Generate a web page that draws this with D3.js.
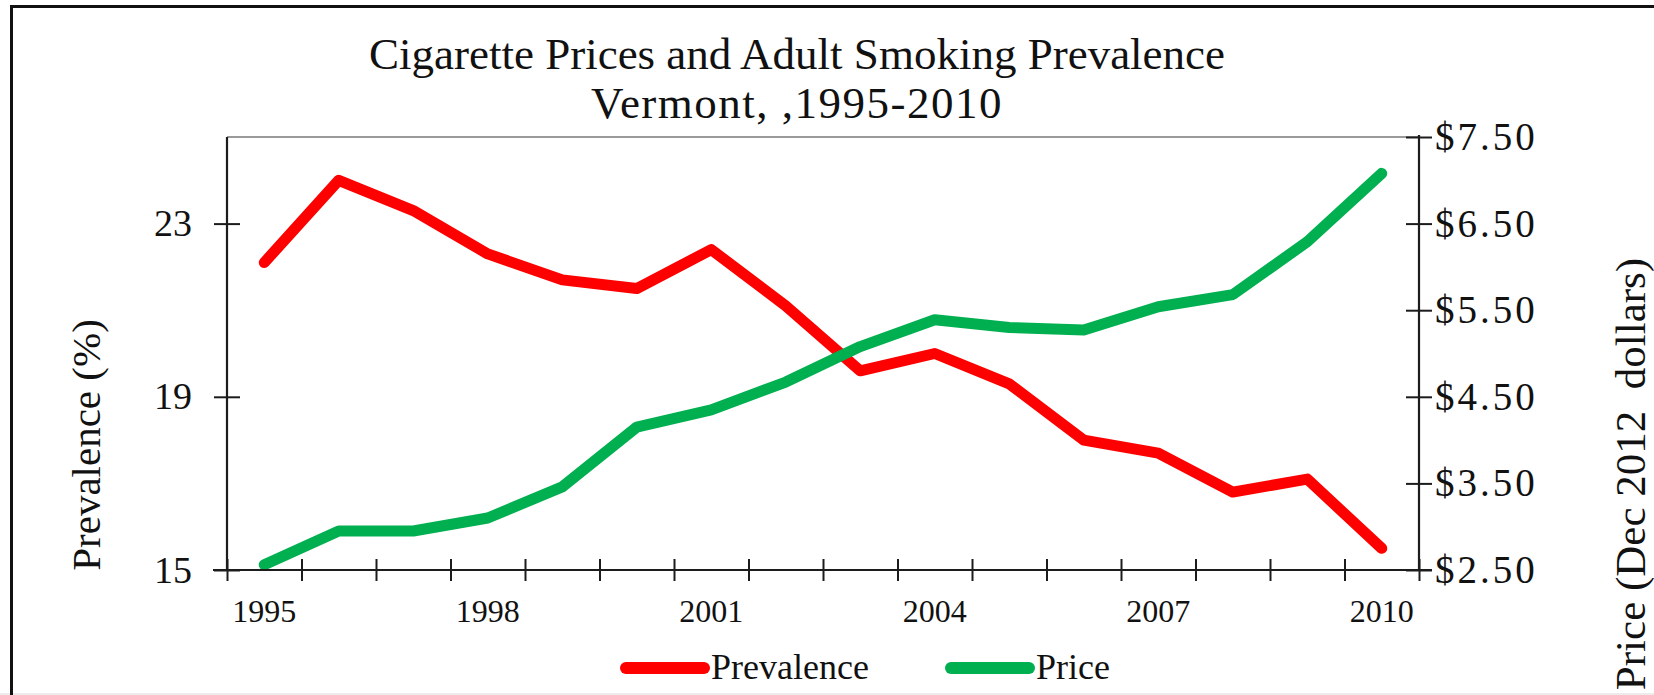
<!DOCTYPE html>
<html>
<head>
<meta charset="utf-8">
<script src="https://cdn.jsdelivr.net/npm/d3@7"></script>
<style>
  html, body { margin: 0; padding: 0; background: #fff; overflow: hidden; }
  svg { display: block; font-family: "Liberation Serif", "Times New Roman", serif; }
</style>
</head>
<body>
<svg id="chart" width="1654" height="695"></svg>
<script>
// ---- data -------------------------------------------------------------
const years = ["1995","1996","1997","1998","1999","2000","2001","2002",
               "2003","2004","2005","2006","2007","2008","2009","2010"];
const yearLabels = ["1995","1998","2001","2004","2007","2010"];
// adult smoking prevalence (%)
const prevalence = [22.1, 24.0, 23.3, 22.3, 21.7, 21.5, 22.4, 21.1,
                    19.6, 20.0, 19.3, 18.0, 17.7, 16.8, 17.1, 15.5];
// cigarette price per pack, Dec 2012 dollars
const price = [2.56, 2.95, 2.95, 3.10, 3.46, 4.15, 4.35, 4.67,
               5.08, 5.39, 5.30, 5.27, 5.54, 5.68, 6.29, 7.08];
const prevalenceTicks = [15, 19, 23];
const priceTicks = [2.5, 3.5, 4.5, 5.5, 6.5, 7.5];
const seriesNames = ["Prevalence", "Price"];
const seriesColors = ["#ff0000", "#00b050"];
const titleLines = ["Cigarette Prices and Adult Smoking Prevalence", "Vermont, ,1995-2010"];
const leftTitle = "Prevalence (%)";
const rightTitle = "Price (Dec 2012  dollars)";

// ---- layout -----------------------------------------------------------
const W = 1654, H = 695;
const plot = { left: 227, right: 1419, top: 137, bottom: 570 };
const axisColor = "#1c1c1c";

const svg = d3.select("#chart");
svg.append("rect").attr("width", W).attr("height", H).attr("fill", "#fff");

// light strip along the bottom edge and the outer frame
svg.append("rect").attr("x", 0).attr("y", H - 2).attr("width", W).attr("height", 2).attr("fill", "#ececec");
svg.append("rect")
  .attr("x", 11.5).attr("y", 6.5).attr("width", W + 20).attr("height", H + 20)
  .attr("fill", "none").attr("stroke", "#111").attr("stroke-width", 3);

// ---- scales -----------------------------------------------------------
const x = d3.scaleBand().domain(years).range([plot.left, plot.right]).padding(0);
const cx = d => x(d) + x.bandwidth() / 2;
const xEdges = d3.scaleLinear().domain([0, years.length]).range([plot.left, plot.right]);
const yL = d3.scaleLinear().domain([15, 25]).range([plot.bottom, plot.top]);
const yR = d3.scaleLinear().domain([2.5, 7.5]).range([plot.bottom, plot.top]);

// ---- title ------------------------------------------------------------
svg.append("g").selectAll("text").data(titleLines).join("text")
  .attr("x", 797).attr("y", (d, i) => 69 + i * 49)
  .attr("text-anchor", "middle").attr("font-size", 45).attr("fill", "#111")
  .attr("letter-spacing", (d, i) => i === 1 ? 1.5 : 0)
  .text(d => d);

// plot area top border
svg.append("line")
  .attr("x1", plot.left).attr("x2", plot.right)
  .attr("y1", plot.top).attr("y2", plot.top)
  .attr("stroke", "#9a9a9a").attr("stroke-width", 2);

// ---- series -----------------------------------------------------------
const lineL = d3.line().x((d, i) => cx(years[i])).y(d => yL(d));
const lineR = d3.line().x((d, i) => cx(years[i])).y(d => yR(d));

svg.append("path").datum(prevalence)
  .attr("d", lineL).attr("fill", "none")
  .attr("stroke", seriesColors[0]).attr("stroke-width", 11)
  .attr("stroke-linecap", "round").attr("stroke-linejoin", "round");

svg.append("path").datum(price)
  .attr("d", lineR).attr("fill", "none")
  .attr("stroke", seriesColors[1]).attr("stroke-width", 11)
  .attr("stroke-linecap", "round").attr("stroke-linejoin", "round");

// ---- axes -------------------------------------------------------------
// category boundary ticks, crossing the baseline
const gxTicks = svg.append("g")
  .attr("transform", `translate(0,${plot.bottom})`)
  .call(d3.axisBottom(xEdges).tickValues(d3.range(years.length + 1)).tickSize(11).tickFormat(""));
gxTicks.select(".domain").remove();
gxTicks.selectAll(".tick line").attr("y1", -11).attr("stroke", axisColor).attr("stroke-width", 2);

// year labels at category centres
const gxLabels = svg.append("g")
  .attr("transform", `translate(0,${plot.bottom})`)
  .call(d3.axisBottom(x).tickValues(yearLabels).tickSize(0).tickPadding(29));
gxLabels.select(".domain").remove();
gxLabels.attr("font-size", 32).attr("font-family", null).style("color", "#111");

// left axis
const gL = svg.append("g")
  .attr("transform", `translate(${plot.left},0)`)
  .call(d3.axisLeft(yL).tickValues(prevalenceTicks).tickSize(13).tickPadding(22).tickFormat(d3.format("d")));
gL.select(".domain").remove();
gL.selectAll(".tick line").attr("x1", 13).attr("stroke", axisColor).attr("stroke-width", 2);
gL.attr("font-size", 38).attr("font-family", null).style("color", "#111");

// right axis
const gR = svg.append("g")
  .attr("transform", `translate(${plot.right},0)`)
  .call(d3.axisRight(yR).tickValues(priceTicks).tickSize(13).tickPadding(3)
    .tickFormat(d => "$" + d3.format(".2f")(d)));
gR.select(".domain").remove();
gR.selectAll(".tick line").attr("x1", -13).attr("stroke", axisColor).attr("stroke-width", 2);
gR.attr("font-size", 39).attr("font-family", null).style("color", "#111");
gR.selectAll(".tick text").attr("letter-spacing", 3);

// axis lines
svg.append("line")
  .attr("x1", plot.left - 14).attr("x2", plot.right + 13)
  .attr("y1", plot.bottom).attr("y2", plot.bottom)
  .attr("stroke", axisColor).attr("stroke-width", 2.2);
svg.append("line")
  .attr("x1", plot.left).attr("x2", plot.left)
  .attr("y1", plot.top).attr("y2", plot.bottom)
  .attr("stroke", axisColor).attr("stroke-width", 2.2);
svg.append("line")
  .attr("x1", plot.right).attr("x2", plot.right)
  .attr("y1", plot.top - 2).attr("y2", plot.bottom)
  .attr("stroke", axisColor).attr("stroke-width", 2.2);

// axis titles
svg.append("text")
  .attr("transform", "translate(100,445) rotate(-90)")
  .attr("text-anchor", "middle").attr("font-size", 41).attr("fill", "#111")
  .text(leftTitle);
svg.append("text")
  .attr("transform", "translate(1645,474) rotate(-90)")
  .attr("text-anchor", "middle").attr("font-size", 43).attr("fill", "#111")
  .style("white-space", "pre")
  .text(rightTitle);

// ---- legend -----------------------------------------------------------
const legendX = [626, 951];
const legend = svg.append("g").selectAll("g").data(seriesNames).join("g")
  .attr("transform", (d, i) => `translate(${legendX[i]},668)`);
legend.append("line")
  .attr("x1", 0).attr("x2", 78).attr("y1", 0).attr("y2", 0)
  .attr("stroke", (d, i) => seriesColors[i]).attr("stroke-width", 12)
  .attr("stroke-linecap", "round");
legend.append("text")
  .attr("x", 85).attr("y", 11)
  .attr("font-size", 36).attr("fill", "#111")
  .text(d => d);
</script>
</body>
</html>
